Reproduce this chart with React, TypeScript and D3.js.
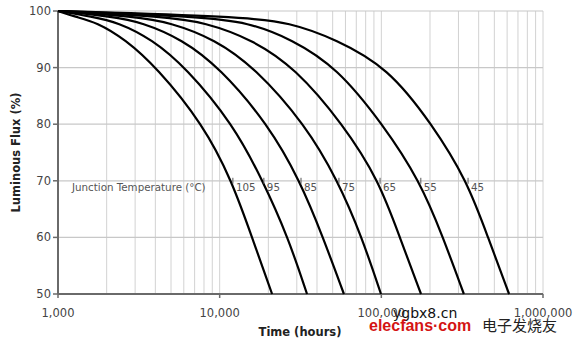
import React from "react";
import * as d3 from "d3";

const W = 573;
const H = 343;

// Luminous flux levels (%) at which each curve was read
const levels = [100, 99, 98, 95, 90, 80, 70, 60, 50];

// Junction temperatures (°C)
const temps = ["105", "95", "85", "75", "65", "55", "45"];

// Hours at which each curve reaches the levels above
const hours105 = [1000, 1270, 1740, 2600, 4090, 7880, 11900, 15850, 21100];
const hours95 = [1000, 1620, 2350, 3810, 6190, 12100, 18500, 26500, 34700];
const hours85 = [1000, 2160, 3310, 5850, 10000, 19900, 31400, 43600, 58700];
const hours75 = [1000, 3000, 4930, 9350, 16500, 33700, 53900, 75900, 99500];
const hours65 = [1000, 4590, 8110, 15800, 29200, 57900, 96800, 130000, 176000];
const hours55 = [1000, 7550, 15000, 28000, 53200, 102000, 173000, 241000, 324000];
const hours45 = [1000, 13400, 27200, 52400, 110000, 206000, 339000, 457000, 617000];

const series = [hours105, hours95, hours85, hours75, hours65, hours55, hours45];

const yTicks = [50, 60, 70, 80, 90, 100];
const xTicks = [1000, 10000, 100000, 1000000];
const xTickLabels = ["1,000", "10,000", "100,000", "1,000,000"];

const legendTitle = "Junction Temperature (°C)";
const labelLevel = 70;

export default function App() {
  const x = d3.scaleLog().domain([1000, 1000000]).range([58, 543]);
  const y = d3.scaleLinear().domain([50, 100]).range([294, 11]);

  const minor: number[] = [];
  for (let dec = 1000; dec < 1000000; dec *= 10) {
    for (let m = 1; m <= 9; m++) minor.push(dec * m);
  }
  minor.push(1000000);

  const line = d3
    .line<[number, number]>()
    .x((d) => x(d[0]))
    .y((d) => y(d[1]))
    .curve(d3.curveBasis);

  const font = "'DejaVu Sans', Verdana, sans-serif";
  const li = levels.indexOf(labelLevel);

  return (
    <svg
      width={W}
      height={H}
      style={{ position: "absolute", left: 0, top: 0, background: "#fff" }}
      fontFamily={font}
    >
      {/* vertical grid */}
      {minor.map((v, i) => (
        <line key={"vg" + i} x1={x(v)} x2={x(v)} y1={y(100)} y2={y(50)} stroke="#d2d2d2" strokeWidth={1} />
      ))}
      {/* horizontal grid */}
      {yTicks.map((v) => (
        <line key={"hg" + v} x1={x(1000)} x2={x(1000000)} y1={y(v)} y2={y(v)} stroke="#c8c8c8" strokeWidth={1.2} />
      ))}
      {/* axes */}
      <line x1={x(1000)} x2={x(1000)} y1={y(100)} y2={y(50)} stroke="#6a6a6a" strokeWidth={2} />
      <line x1={x(1000)} x2={x(1000000)} y1={y(50)} y2={y(50)} stroke="#6a6a6a" strokeWidth={2} />
      {yTicks.map((v) => (
        <g key={"yt" + v}>
          <line x1={x(1000) - 5} x2={x(1000)} y1={y(v)} y2={y(v)} stroke="#6a6a6a" strokeWidth={1.5} />
          <text x={x(1000) - 7} y={y(v)} dy="0.35em" textAnchor="end" fontSize={11.5} fill="#444">
            {v}
          </text>
        </g>
      ))}
      {xTicks.map((v, i) => (
        <g key={"xt" + v}>
          <line x1={x(v)} x2={x(v)} y1={y(50)} y2={y(50) + 4} stroke="#6a6a6a" strokeWidth={1.5} />
          <text x={x(v)} y={y(50) + 23} textAnchor="middle" fontSize={11.5} fill="#444">
            {xTickLabels[i]}
          </text>
        </g>
      ))}
      {/* curves */}
      {series.map((hrs, i) => (
        <path
          key={"c" + i}
          d={line(hrs.map((h, j) => [h, levels[j]] as [number, number])) || ""}
          fill="none"
          stroke="#000"
          strokeWidth={2.2}
        />
      ))}
      {/* curve labels */}
      <text x={72} y={y(labelLevel) + 7} dy="0.35em" fontSize={10.3} fill="#555">
        {legendTitle}
      </text>
      {series.map((hrs, i) => (
        <g key={"l" + i}>
          <line
            x1={x(hrs[li]) + 1}
            x2={x(hrs[li]) + 1}
            y1={y(labelLevel) - 3}
            y2={y(labelLevel) + 3}
            stroke="#555"
            strokeWidth={1}
          />
          <text x={x(hrs[li]) + 4} y={y(labelLevel) + 7} dy="0.35em" fontSize={10.3} fill="#555">
            {temps[i]}
          </text>
        </g>
      ))}
      {/* axis titles */}
      <text
        transform={`translate(20,${(y(100) + y(50)) / 2}) rotate(-90)`}
        textAnchor="middle"
        fontSize={11.5}
        fontWeight="bold"
        fill="#222"
      >
        Luminous Flux (%)
      </text>
      <text x={300} y={336} textAnchor="middle" fontSize={11.5} fontWeight="bold" fill="#222">
        Time (hours)
      </text>
      {/* watermark */}
      <text x={393} y={318} fontSize={14} fill="#111" fontFamily="'DejaVu Sans', sans-serif">
        ygbx8.cn
      </text>
      <text x={369} y={331} fontSize={16} fontWeight="bold" fill="#d41414" fontFamily="'Liberation Sans', Arial, sans-serif">
        elecfans·com
      </text>
      <text x={482} y={331} fontSize={15} fill="#222" fontFamily="'Noto Sans CJK SC', sans-serif">
        电子发烧友
      </text>
    </svg>
  );
}
